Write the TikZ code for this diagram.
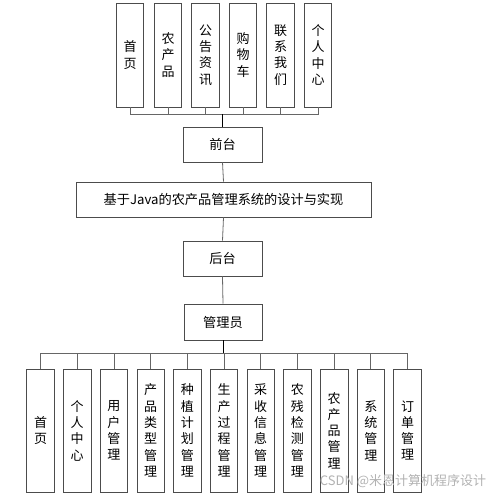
\documentclass[tikz,border=0pt]{standalone}
\usepackage{fontspec}
\newfontfamily\cjk{Noto Sans CJK SC}
\tikzset{
  vbox/.style={draw=black!70,line width=0.7pt,minimum width=27.5,inner sep=0pt,align=center,font=\cjk\fontsize{13}{16.3}\selectfont},
  hbox/.style={draw=black!70,line width=0.7pt,minimum height=35,inner sep=0pt,font=\cjk\fontsize{13.2}{15}\selectfont},
  link/.style={draw=black!60,line width=0.8pt}
}
\begin{document}
\begin{tikzpicture}[x=1pt,y=-1pt]
\useasboundingbox (0,0) rectangle (500,495);
% front end modules
\node[vbox,minimum height=104] (t1) at (130,55) {首\\页};
\node[vbox,minimum height=104] (t2) at (168,55) {农\\产\\品};
\node[vbox,minimum height=104] (t3) at (205.5,55) {公\\告\\资\\讯};
\node[vbox,minimum height=104] (t4) at (243,55) {购\\物\\车};
\node[vbox,minimum height=104] (t5) at (280.5,55) {联\\系\\我\\们};
\node[vbox,minimum height=104] (t6) at (318,55) {个\\人\\中\\心};
\coordinate (tbus) at (222.5,114);
% main chain
\node[hbox,minimum width=79] (qt) at (222.5,144.5) {前台};
\node[hbox,minimum width=295] (xt) at (223.5,199.5) {基于Java的农产品管理系统的设计与实现};
\node[hbox,minimum width=79] (ht) at (222.5,258.5) {后台};
\node[hbox,minimum width=78,minimum height=36] (gly) at (223,322) {管理员};
\coordinate (bbus) at (223,353);
% admin modules
\node[vbox,minimum height=123] (b1) at (40.5,430.5) {首\\页};
\node[vbox,minimum height=123] (b2) at (77.2,430.5) {个\\人\\中\\心};
\node[vbox,minimum height=123] (b3) at (113.9,430.5) {用\\户\\管\\理};
\node[vbox,minimum height=123] (b4) at (150.6,430.5) {产\\品\\类\\型\\管\\理};
\node[vbox,minimum height=123] (b5) at (187.3,430.5) {种\\植\\计\\划\\管\\理};
\node[vbox,minimum height=123] (b6) at (224,430.5) {生\\产\\过\\程\\管\\理};
\node[vbox,minimum height=123] (b7) at (260.7,430.5) {采\\收\\信\\息\\管\\理};
\node[vbox,minimum height=123] (b8) at (297.4,430.5) {农\\残\\检\\测\\管\\理};
\node[vbox,minimum height=123] (b9) at (334.1,430.5) {农\\产\\品\\管\\理};
\node[vbox,minimum height=123] (b10) at (370.8,430.5) {系\\统\\管\\理};
\node[vbox,minimum height=123] (b11) at (407.5,430.5) {订\\单\\管\\理};
\foreach \i in {1,...,6}
  \draw[link] (t\i.south) |- (tbus);
\foreach \i in {1,...,11}
  \draw[link] (b\i.north) |- (bbus);
\draw[black,line width=1pt] (tbus) -- (qt.north);
\draw[link] (qt.south) -- (xt.north);
\draw[link] (xt.south) -- (ht.north);
\draw[link] (ht.south) -- (gly.north);
\draw[black,line width=1pt] (gly.south) -- (bbus);
\node[text=black!30,font=\cjk\fontsize{13}{15}\selectfont] (wm) at (403,481) {CSDN @米恩计算机程序设计};
\end{tikzpicture}
\end{document}
